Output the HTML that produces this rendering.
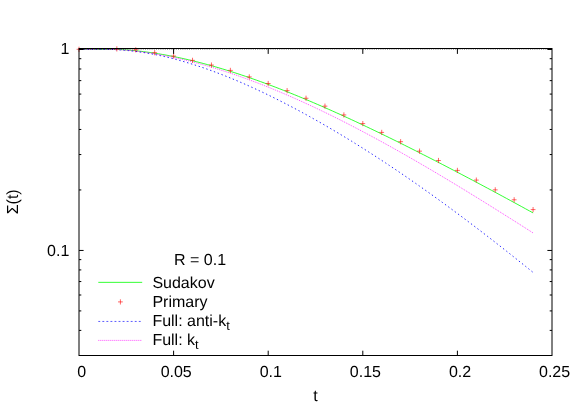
<!DOCTYPE html>
<html><head><meta charset="utf-8"><title>Sigma(t) R=0.1</title>
<style>html,body{margin:0;padding:0;background:#fff;width:581px;height:407px;overflow:hidden;font-family:"Liberation Sans",sans-serif}</style>
</head><body>
<svg width="581" height="407" viewBox="0 0 581 407" style="position:absolute;left:0;top:0;will-change:transform">
<rect width="581" height="407" fill="#fff"/>
<path d="M79.00,49.50 L82.78,49.50 L86.57,49.50 L90.35,49.50 L94.14,49.50 L97.92,49.50 L101.70,49.50 L105.49,49.50 L109.27,49.50 L113.06,49.50 L116.84,49.50 L120.62,49.54 L124.41,49.79 L128.19,50.07 L131.98,50.39 L135.76,50.76 L139.54,51.17 L143.33,51.61 L147.11,52.10 L150.90,52.63 L154.68,53.19 L158.46,53.79 L162.25,54.42 L166.03,55.09 L169.82,55.80 L173.60,56.54 L177.38,57.32 L181.17,58.12 L184.95,58.96 L188.74,59.84 L192.52,60.74 L196.30,61.67 L200.09,62.64 L203.87,63.63 L207.66,64.65 L211.44,65.70 L215.22,66.78 L219.01,67.88 L222.79,69.01 L226.58,70.17 L230.36,71.35 L234.14,72.55 L237.93,73.78 L241.71,75.04 L245.50,76.32 L249.28,77.62 L253.06,78.94 L256.85,80.28 L260.63,81.65 L264.42,83.03 L268.20,84.44 L271.98,85.87 L275.77,87.31 L279.55,88.77 L283.34,90.26 L287.12,91.76 L290.90,93.28 L294.69,94.81 L298.47,96.36 L302.26,97.93 L306.04,99.51 L309.82,101.11 L313.61,102.73 L317.39,104.36 L321.18,106.00 L324.96,107.66 L328.74,109.33 L332.53,111.02 L336.31,112.71 L340.10,114.42 L343.88,116.15 L347.66,117.88 L351.45,119.63 L355.23,121.39 L359.02,123.16 L362.80,124.94 L366.58,126.73 L370.37,128.53 L374.15,130.34 L377.94,132.16 L381.72,133.99 L385.50,135.83 L389.29,137.67 L393.07,139.53 L396.86,141.40 L400.64,143.27 L404.42,145.15 L408.21,147.04 L411.99,148.94 L415.78,150.84 L419.56,152.76 L423.34,154.68 L427.13,156.60 L430.91,158.54 L434.70,160.48 L438.48,162.42 L442.26,164.37 L446.05,166.33 L449.83,168.30 L453.62,170.27 L457.40,172.25 L461.18,174.23 L464.97,176.22 L468.75,178.21 L472.54,180.21 L476.32,182.22 L480.10,184.23 L483.89,186.24 L487.67,188.26 L491.46,190.29 L495.24,192.32 L499.02,194.36 L502.81,196.40 L506.59,198.45 L510.38,200.50 L514.16,202.56 L517.94,204.62 L521.73,206.68 L525.51,208.76 L529.30,210.83 L533.08,212.91" fill="none" stroke="#00ff00" stroke-width="0.8"/>
<path d="M79.00,49.50 L82.78,49.50 L86.57,49.50 L90.35,49.50 L94.14,49.50 L97.92,49.50 L101.70,49.50 L105.49,49.50 L109.27,49.50 L113.06,49.50 L116.84,49.77 L120.62,49.98 L124.41,50.25 L128.19,50.58 L131.98,50.97 L135.76,51.42 L139.54,51.92 L143.33,52.48 L147.11,53.09 L150.90,53.76 L154.68,54.48 L158.46,55.25 L162.25,56.06 L166.03,56.93 L169.82,57.84 L173.60,58.80 L177.38,59.80 L181.17,60.85 L184.95,61.94 L188.74,63.07 L192.52,64.24 L196.30,65.45 L200.09,66.70 L203.87,67.98 L207.66,69.31 L211.44,70.67 L215.22,72.07 L219.01,73.50 L222.79,74.96 L226.58,76.46 L230.36,77.99 L234.14,79.56 L237.93,81.15 L241.71,82.78 L245.50,84.43 L249.28,86.12 L253.06,87.83 L256.85,89.58 L260.63,91.35 L264.42,93.14 L268.20,94.97 L271.98,96.82 L275.77,98.70 L279.55,100.60 L283.34,102.53 L287.12,104.48 L290.90,106.46 L294.69,108.46 L298.47,110.48 L302.26,112.53 L306.04,114.60 L309.82,116.69 L313.61,118.81 L317.39,120.95 L321.18,123.10 L324.96,125.28 L328.74,127.49 L332.53,129.71 L336.31,131.95 L340.10,134.21 L343.88,136.50 L347.66,138.80 L351.45,141.12 L355.23,143.47 L359.02,145.83 L362.80,148.21 L366.58,150.61 L370.37,153.03 L374.15,155.47 L377.94,157.92 L381.72,160.40 L385.50,162.89 L389.29,165.40 L393.07,167.93 L396.86,170.47 L400.64,173.04 L404.42,175.62 L408.21,178.22 L411.99,180.83 L415.78,183.46 L419.56,186.11 L423.34,188.78 L427.13,191.46 L430.91,194.15 L434.70,196.87 L438.48,199.60 L442.26,202.34 L446.05,205.10 L449.83,207.88 L453.62,210.67 L457.40,213.48 L461.18,216.30 L464.97,219.14 L468.75,221.99 L472.54,224.85 L476.32,227.73 L480.10,230.62 L483.89,233.53 L487.67,236.45 L491.46,239.38 L495.24,242.33 L499.02,245.28 L502.81,248.25 L506.59,251.23 L510.38,254.23 L514.16,257.23 L517.94,260.25 L521.73,263.27 L525.51,266.31 L529.30,269.35 L533.08,272.41" fill="none" stroke="#0000ff" stroke-width="0.85" stroke-dasharray="1.4,2.65"/>
<path d="M79.00,49.50 L82.78,49.50 L86.57,49.50 L90.35,49.50 L94.14,49.50 L97.92,49.50 L101.70,49.50 L105.49,49.50 L109.27,49.50 L113.06,49.50 L116.84,49.50 L120.62,49.70 L124.41,50.00 L128.19,50.34 L131.98,50.73 L135.76,51.15 L139.54,51.61 L143.33,52.12 L147.11,52.65 L150.90,53.23 L154.68,53.85 L158.46,54.50 L162.25,55.18 L166.03,55.91 L169.82,56.66 L173.60,57.45 L177.38,58.28 L181.17,59.14 L184.95,60.03 L188.74,60.96 L192.52,61.91 L196.30,62.90 L200.09,63.92 L203.87,64.97 L207.66,66.06 L211.44,67.17 L215.22,68.31 L219.01,69.48 L222.79,70.68 L226.58,71.90 L230.36,73.16 L234.14,74.44 L237.93,75.75 L241.71,77.09 L245.50,78.45 L249.28,79.83 L253.06,81.25 L256.85,82.68 L260.63,84.15 L264.42,85.63 L268.20,87.14 L271.98,88.68 L275.77,90.24 L279.55,91.81 L283.34,93.42 L287.12,95.04 L290.90,96.69 L294.69,98.35 L298.47,100.04 L302.26,101.75 L306.04,103.48 L309.82,105.23 L313.61,106.99 L317.39,108.78 L321.18,110.59 L324.96,112.41 L328.74,114.25 L332.53,116.12 L336.31,117.99 L340.10,119.89 L343.88,121.80 L347.66,123.73 L351.45,125.68 L355.23,127.64 L359.02,129.62 L362.80,131.61 L366.58,133.62 L370.37,135.64 L374.15,137.68 L377.94,139.73 L381.72,141.79 L385.50,143.87 L389.29,145.97 L393.07,148.07 L396.86,150.19 L400.64,152.32 L404.42,154.47 L408.21,156.62 L411.99,158.79 L415.78,160.97 L419.56,163.16 L423.34,165.36 L427.13,167.57 L430.91,169.80 L434.70,172.03 L438.48,174.27 L442.26,176.53 L446.05,178.79 L449.83,181.06 L453.62,183.34 L457.40,185.63 L461.18,187.93 L464.97,190.24 L468.75,192.55 L472.54,194.88 L476.32,197.21 L480.10,199.55 L483.89,201.89 L487.67,204.24 L491.46,206.60 L495.24,208.97 L499.02,211.34 L502.81,213.72 L506.59,216.10 L510.38,218.49 L514.16,220.89 L517.94,223.29 L521.73,225.69 L525.51,228.10 L529.30,230.52 L533.08,232.94" fill="none" stroke="#ff00ff" stroke-width="0.7" stroke-dasharray="1,1"/>
<path d="M79.0,49.5 H552.0" stroke="#000" stroke-opacity="0.35" stroke-width="1" stroke-dasharray="1,1.2" fill="none"/>
<path d="M76.60,49.30h4.8M79.00,46.70v5.2M114.44,48.90h4.8M116.84,46.30v5.2M133.36,49.80h4.8M135.76,47.20v5.2M152.28,52.70h4.8M154.68,50.10v5.2M171.20,56.05h4.8M173.60,53.45v5.2M190.12,60.35h4.8M192.52,57.75v5.2M209.04,65.05h4.8M211.44,62.45v5.2M227.96,70.40h4.8M230.36,67.80v5.2M246.88,76.90h4.8M249.28,74.30v5.2M265.80,83.50h4.8M268.20,80.90v5.2M284.72,90.65h4.8M287.12,88.05v5.2M303.64,98.25h4.8M306.04,95.65v5.2M322.56,106.15h4.8M324.96,103.55v5.2M341.48,114.95h4.8M343.88,112.35v5.2M360.40,123.60h4.8M362.80,121.00v5.2M379.32,132.40h4.8M381.72,129.80v5.2M398.24,141.70h4.8M400.64,139.10v5.2M417.16,151.15h4.8M419.56,148.55v5.2M436.08,160.50h4.8M438.48,157.90v5.2M455.00,170.40h4.8M457.40,167.80v5.2M473.92,180.10h4.8M476.32,177.50v5.2M492.84,189.85h4.8M495.24,187.25v5.2M511.76,199.80h4.8M514.16,197.20v5.2M530.68,209.60h4.8M533.08,207.00v5.2" stroke="#ff0000" stroke-width="0.6" fill="none"/>
<rect x="79.0" y="48.5" width="473.0" height="307.0" fill="none" stroke="#000" stroke-width="1"/>
<path d="M173.60,355.5v-4.8M173.60,48.5v5.4M268.20,355.5v-4.8M268.20,48.5v5.4M362.80,355.5v-4.8M362.80,48.5v5.4M457.40,355.5v-4.8M457.40,48.5v5.4M79.0,49.50h4.6M552.0,49.50h-4.6M79.0,250.44h4.6M552.0,250.44h-4.6M79.0,189.95h2.3M552.0,189.95h-2.3M79.0,154.56h2.3M552.0,154.56h-2.3M79.0,129.46h2.3M552.0,129.46h-2.3M79.0,109.99h2.3M552.0,109.99h-2.3M79.0,94.08h2.3M552.0,94.08h-2.3M79.0,80.63h2.3M552.0,80.63h-2.3M79.0,68.97h2.3M552.0,68.97h-2.3M79.0,58.69h2.3M552.0,58.69h-2.3M79.0,355.50h2.3M552.0,355.50h-2.3M79.0,330.40h2.3M552.0,330.40h-2.3M79.0,310.92h2.3M552.0,310.92h-2.3M79.0,295.01h2.3M552.0,295.01h-2.3M79.0,281.56h2.3M552.0,281.56h-2.3M79.0,269.91h2.3M552.0,269.91h-2.3M79.0,259.63h2.3M552.0,259.63h-2.3" stroke="#000" stroke-width="1" fill="none"/>
<path d="M98.3,282.35H142.2" stroke="#00ff00" stroke-width="0.8"/>
<path d="M118.00,301.90h4.8M120.40,299.30v5.2" stroke="#ff0000" stroke-width="0.6" fill="none"/>
<path d="M98.3,321.45H142.2" stroke="#0000ff" stroke-width="0.65" stroke-dasharray="1.9,2.15"/>
<path d="M98.3,340.4H142.2" stroke="#ff00ff" stroke-width="0.7" stroke-dasharray="1,1"/>
<g font-family="Liberation Sans, sans-serif" font-size="16" fill="#000" text-rendering="geometricPrecision">
<text x="81.6" y="377.0" text-anchor="middle">0</text>
<text x="176.2" y="377.0" text-anchor="middle">0.05</text>
<text x="270.8" y="377.0" text-anchor="middle">0.1</text>
<text x="365.4" y="377.0" text-anchor="middle">0.15</text>
<text x="460.0" y="377.0" text-anchor="middle">0.2</text>
<text x="554.6" y="377.0" text-anchor="middle">0.25</text>
<text x="69.4" y="53.9" text-anchor="end">1</text>
<text x="69.3" y="255.5" text-anchor="end">0.1</text>
<text x="315.5" y="400.6" text-anchor="middle">t</text>
<text transform="translate(18.4,214.3) rotate(-90)">&#931;(t)</text>
<text x="174" y="264.9">R = 0.1</text>
<text x="152.4" y="288">Sudakov</text>
<text x="152.4" y="307.3">Primary</text>
<text x="152.4" y="325.6">Full: anti-k<tspan font-size="12.8" dy="4.8">t</tspan></text>
<text x="152.4" y="344.6">Full: k<tspan font-size="12.8" dy="4.8">t</tspan></text>
</g>
</svg>
</body></html>
